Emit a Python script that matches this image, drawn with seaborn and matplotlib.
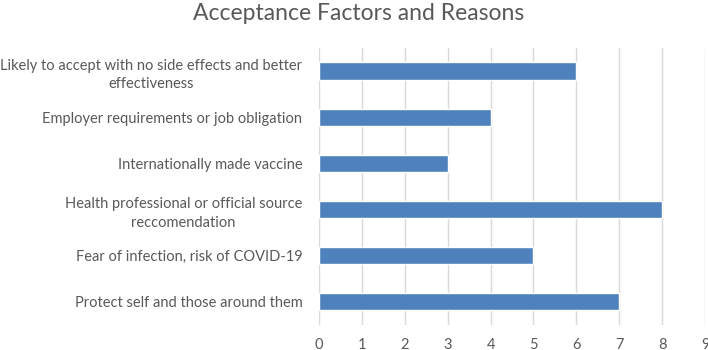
import numpy as np
import pandas as pd
import matplotlib
matplotlib.use("Agg")
import matplotlib.pyplot as plt
import seaborn as sns

# data, top to bottom
reasons = [
    "Likely to accept with no side effects and better\neffectiveness",
    "Employer requirements or job obligation",
    "Internationally made vaccine",
    "Health professional or official source\nreccomendation",
    "Fear of infection, risk of COVID-19",
    "Protect self and those around them",
]
counts = [6, 4, 3, 8, 5, 7]
x_ticks = list(range(0, 10))

df = pd.DataFrame({"reason": reasons, "count": counts})

sns.set_style("white")
plt.rcParams["font.family"] = ["Lato", "DejaVu Sans"]
text_grey = "#595959"

fig = plt.figure(figsize=(7.08, 3.5), dpi=100)
ax = fig.add_axes([0.4506, 0.0714, 0.5452, 0.7916])

sns.barplot(data=df, x="count", y="reason", color="#4f81bd", saturation=1,
            width=0.37, ax=ax, orient="h")

ax.set_xlim(0, 9)
ax.set_xticks(x_ticks)
ax.set_xlabel("")
ax.set_ylabel("")
ax.grid(axis="x", color="#d9d9d9", linewidth=1)
ax.set_axisbelow(True)
for s in ax.spines.values():
    s.set_visible(False)
ax.tick_params(axis="both", length=0, labelsize=10.5, labelcolor=text_grey)
ax.tick_params(axis="x", pad=9)
ax.tick_params(axis="y", pad=12)
for lbl in ax.get_yticklabels():
    lbl.set_multialignment("center")
    lbl.set_linespacing(1.45)

fig.suptitle("Acceptance Factors and Reasons", x=0.506, y=0.99,
             fontsize=16.5, color=text_grey)

fig.savefig("out.png", dpi=100)
